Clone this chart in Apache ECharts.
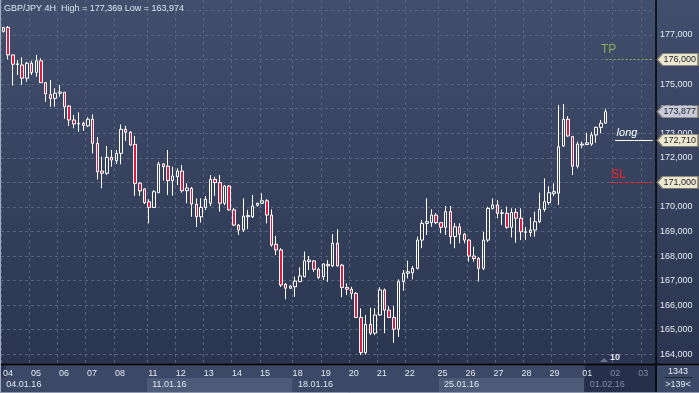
<!DOCTYPE html>
<html><head><meta charset="utf-8">
<script src="https://cdn.jsdelivr.net/npm/echarts@6/dist/echarts.min.js"></script>
<style>html,body{margin:0;padding:0;background:#333e59;}#c{width:699px;height:393px;}</style>
</head><body><div id="c"></div>
<script>
// ---- data ----
const weeks = ['04.01.16', '11.01.16', '18.01.16', '25.01.16', '01.02.16'];
const dayLabels = [
  ['04', '05', '06', '07', '08'],
  ['11', '12', '13', '14', '15'],
  ['18', '19', '20', '21', '22'],
  ['25', '26', '27', '28', '29'],
  ['01', '02', '03']
];
const slotsPerWeek = 31;
const totalSlots = 139;
const opens = [
177.15,177.31,176.19,175.80,175.78,175.24,175.85,175.48,175.95,175.06,
174.57,174.42,174.63,174.67,174.11,173.54,173.40,173.40,173.30,173.57,
172.59,171.46,171.37,172.02,171.88,172.18,173.16,173.04,172.55,170.97,
170.73,170.21,169.98,170.58,171.75,171.66,171.07,171.23,171.46,170.66,
170.76,170.11,169.60,169.98,170.15,171.12,170.99,170.15,170.85,169.88,
169.26,169.06,169.60,169.60,170.07,170.15,170.25,169.67,168.48,168.25,
166.85,166.69,166.75,166.96,167.16,167.77,167.80,167.46,167.16,167.66,
167.60,168.52,167.63,166.72,166.65,166.48,165.50,164.07,165.22,164.86,
165.60,166.62,165.80,165.50,165.02,166.96,167.30,167.32,167.50,168.65,
169.33,169.36,169.67,169.36,169.17,169.81,168.79,169.19,168.89,168.65,
168.00,167.90,167.50,168.65,169.94,170.08,169.74,169.74,169.17,169.78,
169.54,168.96,168.96,169.06,169.40,169.90,170.17,170.55,170.56,172.48,
173.57,172.86,171.66,172.52,172.54,172.56,172.93,173.24,173.41];
const closes = [
177.30,176.19,175.81,175.83,175.24,175.85,175.47,175.95,175.06,174.60,
174.42,174.63,174.68,174.08,173.54,173.38,173.38,173.32,173.57,172.59,
171.43,171.37,172.02,171.91,172.18,173.16,173.04,172.52,170.96,170.65,
170.17,169.98,170.62,171.75,171.64,171.07,171.26,171.46,170.66,170.77,
170.12,169.60,169.98,170.31,171.12,170.99,170.15,170.85,169.88,169.26,
169.06,169.63,169.65,170.04,170.15,170.25,169.67,168.45,168.25,166.82,
166.69,166.78,166.98,167.19,167.81,167.84,167.46,167.13,167.68,167.60,
168.52,167.60,166.72,166.65,166.48,165.50,164.07,165.22,164.86,165.60,
166.62,165.80,165.50,165.02,166.96,167.30,167.36,167.50,168.65,169.33,
169.40,169.67,169.36,169.17,169.81,168.79,169.19,168.89,168.65,168.00,
167.90,167.50,168.65,169.94,170.08,169.74,169.76,169.17,169.78,169.54,
168.99,168.99,169.06,169.40,169.90,170.21,170.58,170.62,172.45,173.57,
172.89,171.66,172.56,172.56,172.61,172.93,173.24,173.41,173.877];
const lows = [
177.10,176.01,174.94,175.37,174.96,175.10,175.37,175.30,175.05,174.28,
174.08,174.08,174.49,173.59,173.30,173.20,173.06,173.10,173.25,172.18,
171.12,170.76,171.30,171.64,171.75,171.74,172.68,172.48,170.45,170.45,
170.12,169.33,169.96,170.57,171.07,170.49,170.46,170.89,170.58,170.15,
169.60,169.18,169.36,169.87,170.04,170.45,169.81,170.07,169.85,169.22,
168.86,168.98,169.10,169.55,170.01,170.12,169.33,168.38,168.04,166.74,
166.24,166.66,166.34,166.94,167.13,167.43,167.36,167.06,167.02,166.95,
167.55,167.57,166.32,166.41,166.24,165.48,163.974,163.99,164.78,164.78,
165.56,164.86,165.48,164.47,164.71,166.59,167.09,167.05,167.45,168.32,
168.86,169.19,169.30,168.93,168.86,168.49,168.32,168.52,168.52,167.77,
167.77,166.96,167.43,168.57,169.90,169.54,169.26,169.10,168.76,168.54,
168.65,168.65,168.79,168.79,169.34,169.81,170.08,170.44,170.08,172.44,
172.85,171.30,171.57,172.39,172.52,172.48,172.61,173.00,173.38];
const highs = [
177.33,177.369,176.20,175.98,176.09,175.91,175.95,176.19,176.05,175.09,
175.17,174.83,174.96,174.68,174.15,173.74,173.85,173.47,173.65,173.77,
172.84,172.05,172.48,172.32,172.32,173.36,173.30,173.09,172.89,171.00,
170.77,170.31,170.69,171.84,171.78,172.32,171.64,171.57,171.71,170.96,
170.81,170.35,170.35,170.44,171.30,171.23,171.30,170.89,170.89,169.96,
169.30,170.35,169.88,170.49,170.17,170.55,170.32,169.90,168.82,168.32,
166.90,166.82,167.16,167.54,168.18,168.00,167.84,167.54,167.70,167.84,
168.89,169.09,167.68,166.89,166.75,166.54,165.87,165.60,165.90,165.87,
166.73,166.68,165.97,165.97,167.05,167.43,167.81,167.60,168.79,169.47,
170.35,169.90,169.75,169.39,170.04,170.04,169.34,169.33,168.94,168.69,
168.38,167.96,168.99,170.01,170.35,170.28,169.90,170.01,169.94,169.94,
169.94,169.19,169.57,169.81,170.58,171.16,170.84,170.96,174.15,174.19,
173.70,172.89,172.66,172.66,173.02,173.06,173.27,173.54,174.00];
const yLabelTicks = [164,165,166,167,168,169,170,171,172,173,174,175,176,177];
const yGridTicks = [164,165,166,167,168,169,170,171,172,173,174,175,176,177,178];
const yMin = 163.605, yMax = 178.425;
const tpLevel = 176.0, slLevel = 171.0, entryLevel = 172.71;
const titleText = 'GBP/JPY 4H  High = 177,369 Low = 163,974';
const barsCount = 1343, barsShown = 139, indicatorText = '10';
const currentWeekStart = 124;

// ---- helpers ----
const cats = Array.from({length: totalSlots}, (_, i) => String(i));
function dayAt(i) {
  const w = Math.floor(i / slotsPerWeek), r = i % slotsPerWeek;
  if (r % 6 === 0 && r <= 24 && dayLabels[w] && dayLabels[w][r / 6]) return dayLabels[w][r / 6];
  return null;
}
const fmt = v => v.toFixed(3).replace('.', ',');
const candles = opens.map((o, i) => [o, closes[i], lows[i], highs[i]]);
const lastIdx = closes.length - 1;
const lastPrice = closes[lastIdx];
const FONT = 'Liberation Sans';
const gridColor = '#56627f';
const tagPath = 'path://M0,6 L6,0 L46,0 L46,12 L6,12 Z';
const endSlot = totalSlots - 1;

function tag(v, bg) {
  return {
    coord: [endSlot, v], symbol: tagPath, symbolSize: [41, 12], symbolOffset: [25, 0],
    itemStyle: {color: bg, borderColor: '#7f7d70', borderWidth: 1},
    label: {show: true, position: 'inside', formatter: fmt(v), color: '#1b1f2c', fontSize: 9, fontFamily: FONT, offset: [2, 0]}
  };
}
function txt(slot, v, text, color, dx, dy, extra) {
  return {
    coord: [slot, v], symbol: 'circle', symbolSize: 1, itemStyle: {color: 'rgba(0,0,0,0)'},
    label: Object.assign({show: true, position: 'inside', formatter: text, color: color, fontSize: 12, fontFamily: FONT, offset: [dx, dy]}, extra || {})
  };
}
const splitAt = (i) => i % slotsPerWeek === 0 || i === endSlot;

const chart = echarts.init(document.getElementById('c'), null, {renderer: 'canvas', width: 699, height: 393});
const option = {
  animation: false,
  backgroundColor: new echarts.graphic.LinearGradient(0, 0, 0, 1, [
    {offset: 0, color: '#414e6c'}, {offset: 1, color: '#29334d'}
  ]),
  grid: [
    {left: 1, top: 0, width: 654, height: 364},
    {left: 1, top: 364, width: 654, height: 14},
    {left: 1, top: 378, width: 654, height: 15}
  ],
  xAxis: [
    {
      gridIndex: 0, type: 'category', data: cats, boundaryGap: true,
      axisLine: {show: false}, axisTick: {show: false}, axisLabel: {show: false},
      splitLine: {show: true, interval: (i) => dayAt(i) !== null, lineStyle: {color: gridColor, type: [3, 3], width: 1}}
    },
    {
      gridIndex: 1, type: 'category', data: cats, boundaryGap: true, position: 'top',
      axisLine: {show: false}, axisTick: {show: false},
      axisLabel: {
        show: true, inside: true, margin: 5, interval: (i) => dayAt(i) !== null,
        formatter: (v) => dayAt(+v) || '', fontSize: 9, fontFamily: FONT,
        color: (v) => (+v > currentWeekStart ? '#7f8ba4' : '#e2e7f0')
      },
      splitArea: {show: true, interval: splitAt,
        areaStyle: {color: ['#3b4866', '#3b4866', '#3b4866', '#3b4866', '#27304a', '#27304a']}}
    },
    {
      gridIndex: 2, type: 'category', data: cats, boundaryGap: true, position: 'top',
      axisLine: {show: false}, axisTick: {show: false},
      axisLabel: {
        show: true, inside: true, margin: 2, align: 'left', padding: [0, 0, 0, 3],
        interval: (i) => i % slotsPerWeek === 0,
        formatter: (v) => weeks[Math.floor(+v / slotsPerWeek)], fontSize: 9, fontFamily: FONT,
        color: (v) => (+v >= currentWeekStart ? '#7f8ba4' : '#dfe4ee')
      },
      splitArea: {show: true, interval: splitAt,
        areaStyle: {color: ['#3b4866', '#4d5a78', '#3b4866', '#4d5a78', '#27304a', '#27304a']}}
    }
  ],
  yAxis: [
    {
      gridIndex: 0, type: 'value', position: 'right', min: yMin, max: yMax, offset: 1,
      axisLine: {show: true, lineStyle: {color: '#000', width: 1.5}},
      axisTick: {show: false, customValues: yGridTicks},
      axisLabel: {customValues: yLabelTicks, formatter: fmt, color: '#e6eaf2', fontSize: 9, fontFamily: FONT, margin: 4},
      splitLine: {show: true, lineStyle: {color: gridColor, type: [3, 3], width: 1}}
    },
    {gridIndex: 1, type: 'value', position: 'right', offset: 1, axisLine: {show: true, lineStyle: {color: '#000', width: 1.5}},
      axisTick: {show: false}, axisLabel: {show: false}, splitLine: {show: false}},
    {gridIndex: 2, type: 'value', position: 'right', offset: 1, axisLine: {show: true, lineStyle: {color: '#000', width: 1.5}},
      axisTick: {show: false}, axisLabel: {show: false}, splitLine: {show: false}}
  ],
  series: [{
    type: 'candlestick', xAxisIndex: 0, yAxisIndex: 0, data: candles, barWidth: 3,
    itemStyle: {color: 'rgba(0,0,0,0)', color0: '#e3173f', borderColor: '#ffffff', borderColor0: '#ffffff', borderWidth: 1},
    emphasis: {disabled: true}, silent: true,
    markLine: {
      silent: true, symbol: ['none', 'none'], label: {show: false},
      data: [
        [{coord: [128, tpLevel], lineStyle: {color: '#8cab5a', type: [2, 2], width: 1}}, {coord: [endSlot, tpLevel]}],
        [{coord: [129, slLevel], lineStyle: {color: '#ff1f1f', type: [3, 2], width: 1}}, {coord: [endSlot, slLevel]}],
        [{coord: [130, entryLevel], lineStyle: {color: '#ffffff', type: 'solid', width: 1}}, {coord: [endSlot, entryLevel]}]
      ]
    },
    markPoint: {
      silent: true,
      data: [
        txt(128, tpLevel, 'TP', '#8cab5a', 3, -10),
        txt(129, slLevel, 'SL', '#ff2222', 8, -8),
        txt(130, entryLevel, 'long', '#ffffff', 12, -7, {fontStyle: 'italic', fontSize: 11}),
        tag(tpLevel, '#ece8d0'),
        tag(lastPrice, '#c7cad8'),
        tag(entryLevel, '#ece8d0'),
        tag(slLevel, '#ece8d0')
      ]
    }
  }],
  graphic: [
    {type: 'text', left: 4, top: 4, z: 10, style: {text: titleText, fill: '#dde3ee', font: '9px "Liberation Sans"'}},
    {type: 'line', z: 10, shape: {x1: 0, y1: 364.5, x2: 699, y2: 364.5}, style: {stroke: '#000', lineWidth: 1.5}},
    {type: 'rect', z: 5, shape: {x: 657, y: 365, width: 42, height: 28}, style: {fill: '#3b4866'}},
    {type: 'text', z: 10, x: 678, y: 372, style: {text: String(barsCount), fill: '#e6eaf2', font: '9px "Liberation Sans"', align: 'center', verticalAlign: 'middle'}},
    {type: 'line', z: 10, shape: {x1: 664, y1: 377.5, x2: 692, y2: 377.5}, style: {stroke: '#1d2436', lineWidth: 1}},
    {type: 'text', z: 10, x: 678, y: 385, style: {text: '>' + barsShown + '<', fill: '#e6eaf2', font: '9px "Liberation Sans"', align: 'center', verticalAlign: 'middle'}},
    {type: 'polygon', z: 10, shape: {points: [[600, 362], [604, 358], [608, 362]]}, style: {fill: '#6c7890'}},
    {type: 'text', z: 10, x: 615, y: 358, style: {text: indicatorText, fill: '#e6eaf2', font: 'bold 9px "Liberation Sans"', align: 'center', verticalAlign: 'middle'}},
    {type: 'line', z: 10, shape: {x1: 0.5, y1: 0, x2: 0.5, y2: 393}, style: {stroke: '#a2abbd', lineWidth: 1}},
    {type: 'line', z: 10, shape: {x1: 0, y1: 392.5, x2: 699, y2: 392.5}, style: {stroke: '#8f99ae', lineWidth: 1}}
  ]
};
chart.setOption(option);
</script>
</body></html>
